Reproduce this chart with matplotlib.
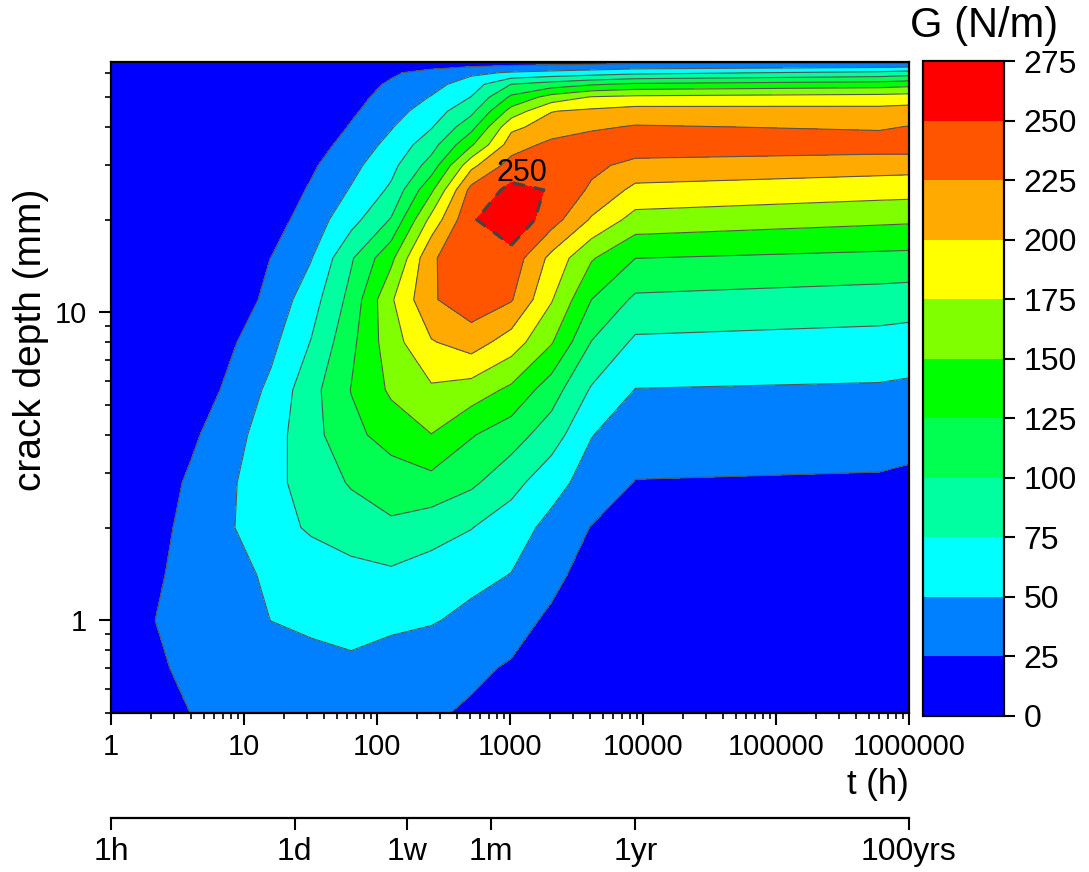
import numpy as np
import matplotlib
matplotlib.use("Agg")
from matplotlib import pyplot as plt
from matplotlib.colors import ListedColormap, BoundaryNorm

plt.rcParams['font.family'] = ['Liberation Sans', 'DejaVu Sans']

# time grid (h) and crack depth grid (mm)
t_hours = [1, 2, 4, 8, 16, 32, 64, 128, 256, 512, 1024, 2048, 4096, 8760, 6e5, 1e6]
depth_mm = [0.5, 0.7, 1, 1.4, 2, 2.8, 4, 5.6, 8, 11, 15, 20, 25, 30, 35, 40, 45, 50, 55, 60, 65]

# G (N/m), one row per crack depth (bottom to top), one column per time
g_grid = [
    [16, 20.5, 25.1, 29.7, 34.3, 38.9, 36.4, 31.8, 27.2, 22.6, 18, 14, 10, 9, 8, 8],            # 0.5
    [17.7, 22.7, 27.6, 32.5, 37.5, 42.4, 46, 39.2, 33.8, 28.5, 23.1, 17.7, 12, 10, 9, 9],        # 0.7
    [15.4, 24.1, 32.8, 41.5, 50.2, 54.5, 57, 55, 52, 44, 32.7, 21.3, 14, 11, 10, 10],            # 1
    [9.5, 21, 32.5, 44, 53.3, 60.1, 67, 70.1, 63.2, 56.3, 49.3, 30.7, 16, 12, 11, 11],           # 1.4
    [8, 16.2, 32.2, 48.4, 65, 78.4, 87, 96, 86, 75.8, 60.3, 43.5, 24, 14, 12, 12],               # 2
    [8, 11, 29, 46.9, 67.2, 86.4, 102.3, 111.4, 117, 104.5, 84, 58.5, 40.3, 24.1, 22.2, 20],     # 2.8
    [8, 12, 20.6, 40.2, 63.9, 91.2, 118.2, 135.2, 149.5, 126.8, 111.2, 87.5, 50.8, 37.1, 34.9, 33],  # 4
    [5, 7, 9.2, 31, 55.7, 91.4, 125.8, 154.2, 171.2, 163.4, 144.7, 111.4, 72.3, 49.3, 47, 45.2],  # 5.6
    [5, 8, 12, 21.8, 43.5, 76.1, 118.8, 164.3, 198, 212, 188, 152.2, 99.2, 70.5, 66.4, 64.2],    # 8
    [5, 5, 6, 7.7, 33.3, 64, 108.3, 171.9, 222, 240, 227, 177, 125, 95.3, 88.8, 87.3],           # 11
    [5, 5, 6, 12, 25.3, 48.8, 97.2, 143.8, 222, 242, 240, 192.9, 152.5, 125.2, 118.5, 117.7],    # 15
    [5, 5, 5, 8, 14.4, 36.7, 66, 101.9, 182.7, 247, 270, 236.1, 197.2, 165.6, 155.2, 154],       # 20
    [5, 5, 5, 5, 8, 28, 51.9, 79.3, 145, 233, 256, 248.6, 220.7, 193.6, 185.7, 184.8],           # 25
    [5, 5, 5, 5, 6, 21.2, 42.9, 67.5, 110.5, 192.9, 236, 245, 231.2, 217, 210.5, 209.5],         # 30
    [5, 5, 5, 5, 5, 13.3, 34.6, 57.2, 89.8, 146.7, 212.5, 232, 238, 240, 237, 238],              # 35
    [5, 5, 5, 5, 5, 6, 27.1, 48.4, 73.1, 116.4, 194.6, 210, 221, 227, 222, 226],                 # 40
    [5, 5, 5, 5, 5, 5, 21.2, 40.1, 62.2, 93.6, 159.7, 199.2, 204.6, 210, 208, 210.2],            # 45
    [5, 5, 5, 5, 5, 5, 17, 33.9, 51.2, 75.6, 129.6, 159.6, 176.5, 180.3, 185, 186.6],            # 50
    [5, 5, 5, 5, 5, 5, 14.7, 28, 41.3, 63, 100.5, 111.5, 122.5, 130, 137.5, 141.7],              # 55
    [5, 5, 5, 5, 5, 5, 12, 21.8, 33.4, 44.6, 52.5, 57.3, 62, 68, 81, 85.8],                      # 60
    [5, 5, 5, 5, 5, 5, 5, 5, 8, 10, 12, 14, 15, 18, 18, 18],                                     # 65
]

levels = [0, 25, 50, 75, 100, 125, 150, 175, 200, 225, 250, 275]
band_colors = ['#0000FF', '#0080FF', '#00FFFF', '#00FFA0', '#00FF50', '#00FF00',
               '#80FF00', '#FFFF00', '#FFAA00', '#FF5500', '#FF0000']

time_marks = [1, 24, 168, 720, 8760, 1e6]
time_mark_labels = ['1h', '1d', '1w', '1m', '1yr', '100yrs']

peak_label_t, peak_label_a = 1230, 28.3

lx = np.log10(t_hours)
ly = np.log10(depth_mm)
G = np.array(g_grid)

cmap = ListedColormap(band_colors)
norm = BoundaryNorm(levels, cmap.N)

fig = plt.figure(figsize=(10.89, 8.72), dpi=100)
ax = fig.add_axes([0.1019, 0.1823, 0.7328, 0.7466])

cf = ax.contourf(lx, ly, G, levels=levels, cmap=cmap, norm=norm)
ax.contour(lx, ly, G, levels=levels[1:-2], colors='#555555', linewidths=0.8)
ax.contour(lx, ly, G, levels=[250], colors='#444444', linewidths=2.2, linestyles=[(0, (4, 3))])
ax.text(np.log10(peak_label_t), np.log10(peak_label_a), '250', fontsize=22,
        ha='center', va='center')

ax.set_xlim(0, 6)
ax.set_ylim(np.log10(0.5), np.log10(65))

xmaj = np.arange(0, 7)
ax.set_xticks(xmaj)
ax.set_xticklabels([str(10 ** k) for k in xmaj])
ax.set_xticks([k + np.log10(m) for k in range(6) for m in range(2, 10)], minor=True)
ax.set_yticks([0, 1])
ax.set_yticklabels(['1', '10'])
ymin = [np.log10(v) for v in [0.5, 0.6, 0.7, 0.8, 0.9, 2, 3, 4, 5, 6, 7, 8, 9,
                              20, 30, 40, 50, 60]]
ax.set_yticks(ymin, minor=True)

ax.tick_params(which='both', direction='out', top=False, right=False, labelsize=21)
ax.tick_params(which='major', length=8.6, width=1.5)
ax.tick_params(which='minor', length=4.5, width=1.2)
ax.tick_params(axis='x', pad=6)
ax.tick_params(axis='y', pad=9)
for s in ax.spines.values():
    s.set_linewidth(1.6)

ax.set_xlabel('t (h)', fontsize=25, loc='right')
ax.xaxis.set_label_coords(1.0, -0.084)
ax.set_ylabel('crack depth (mm)', fontsize=28)
ax.yaxis.set_label_coords(-0.078, 0.573)

# second time axis
ax2 = fig.add_axes([0.1019, 0.0619, 0.7328, 0.0001])
ax2.patch.set_visible(False)
for side in ['left', 'right', 'top']:
    ax2.spines[side].set_visible(False)
ax2.spines['bottom'].set_linewidth(1.6)
ax2.set_xlim(0, 6)
ax2.set_yticks([])
ax2.set_xticks(np.log10(time_marks))
ax2.set_xticklabels(time_mark_labels)
ax2.tick_params(axis='x', direction='out', length=8.6, width=1.5, labelsize=23, pad=5)

# colour bar
cax = fig.add_axes([0.8476, 0.1789, 0.0744, 0.7511])
cb = fig.colorbar(cf, cax=cax, ticks=levels)
cb.outline.set_linewidth(1.6)
cax.tick_params(direction='out', length=8, width=1.5, labelsize=23, pad=6)
fig.text(984 / 1089, 1 - 26 / 872, 'G (N/m)', fontsize=30, ha='center', va='center')

fig.savefig('out.png', dpi=100)
